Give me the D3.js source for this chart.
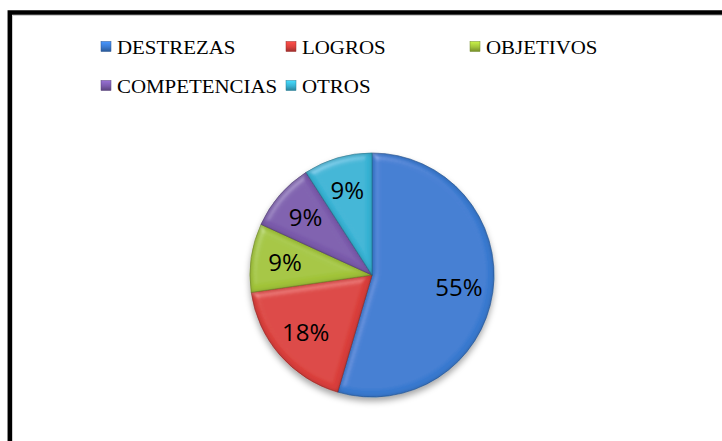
<!DOCTYPE html>
<html>
<head>
<meta charset="utf-8">
<script src="https://cdn.jsdelivr.net/npm/d3@7"></script>
<style>
  body { margin: 0; background: #fff; }
  svg { display: block; }
</style>
</head>
<body>
<svg id="chart"></svg>
<script>
// data
const categories = ['DESTREZAS', 'LOGROS', 'OBJETIVOS', 'COMPETENCIAS', 'OTROS'];
const counts = [6, 2, 1, 1, 1];
const colors = ['#3a7ad0', '#da403c', '#a2c43a', '#7b5bac', '#38b3d4'];

const width = 722, height = 441;
const cx = 372, cy = 275, radius = 122;

const svg = d3.select('#chart')
    .attr('width', width)
    .attr('height', height);

const defs = svg.append('defs');

// bevel look for each slice
const bevel = defs.append('filter')
    .attr('id', 'bevel')
    .attr('x', '-10%').attr('y', '-10%')
    .attr('width', '120%').attr('height', '120%');
bevel.append('feGaussianBlur')
    .attr('in', 'SourceAlpha').attr('stdDeviation', 3.5).attr('result', 'blur');
bevel.append('feSpecularLighting')
    .attr('in', 'blur').attr('surfaceScale', 4)
    .attr('specularConstant', 0.35).attr('specularExponent', 20)
    .attr('lighting-color', '#ffffff').attr('result', 'spec')
    .append('feDistantLight').attr('azimuth', 235).attr('elevation', 40);
bevel.append('feComposite')
    .attr('in', 'spec').attr('in2', 'SourceAlpha').attr('operator', 'in').attr('result', 'specIn');
bevel.append('feGaussianBlur')
    .attr('in', 'SourceAlpha').attr('stdDeviation', 2.5).attr('result', 'blur2');
bevel.append('feComposite')
    .attr('in', 'SourceAlpha').attr('in2', 'blur2').attr('operator', 'out').attr('result', 'edge');
bevel.append('feFlood')
    .attr('flood-color', '#000').attr('flood-opacity', 0.5).attr('result', 'dark');
bevel.append('feComposite')
    .attr('in', 'dark').attr('in2', 'edge').attr('operator', 'in').attr('result', 'darkEdge');
bevel.append('feComposite')
    .attr('in', 'SourceGraphic').attr('in2', 'specIn').attr('operator', 'arithmetic')
    .attr('k1', 0).attr('k2', 1).attr('k3', 0.45).attr('k4', 0).attr('result', 'lit');
const merge = bevel.append('feMerge');
merge.append('feMergeNode').attr('in', 'lit');
merge.append('feMergeNode').attr('in', 'darkEdge');

// soft shadow under the pie
const shadow = defs.append('filter')
    .attr('id', 'shadow')
    .attr('x', '-20%').attr('y', '-20%')
    .attr('width', '140%').attr('height', '140%');
shadow.append('feDropShadow')
    .attr('dx', 0).attr('dy', 4).attr('stdDeviation', 3)
    .attr('flood-color', '#000').attr('flood-opacity', 0.35);

// legend marker gradients
colors.forEach(function (c, i) {
    const g = defs.append('linearGradient')
        .attr('id', 'mk' + i)
        .attr('x1', 0).attr('y1', 0).attr('x2', 0).attr('y2', 1);
    g.append('stop').attr('offset', '0%').attr('stop-color', d3.color(c).brighter(0.6));
    g.append('stop').attr('offset', '55%').attr('stop-color', c);
    g.append('stop').attr('offset', '100%').attr('stop-color', d3.color(c).darker(0.9));
});

// frame (only top and left edges are in view)
svg.append('rect')
    .attr('x', 9.8).attr('y', 12.5)
    .attr('width', width + 20).attr('height', height + 20)
    .attr('fill', 'none')
    .attr('stroke', '#000')
    .attr('stroke-width', 4.5);
svg.append('path')
    .attr('d', `M12.5,15.5 H${width} M12.5,15.5 V${height}`)
    .attr('stroke', '#cfcfcf')
    .attr('stroke-width', 1)
    .attr('fill', 'none');

// legend: 3 columns
const legendCols = [101, 286, 470];
const legendRows = [41.5, 80.5];

const legend = svg.append('g');
const items = legend.selectAll('g.item')
    .data(categories)
    .join('g')
    .attr('class', 'item')
    .attr('transform', (d, i) => `translate(${legendCols[i % 3]}, ${legendRows[Math.floor(i / 3)]})`);

items.append('rect')
    .attr('width', 10).attr('height', 10)
    .attr('fill', (d, i) => `url(#mk${i})`)
    .attr('stroke', (d, i) => d3.color(colors[i]).darker(1))
    .attr('stroke-width', 0.5);

items.append('text')
    .attr('transform', 'translate(16, 12.8) scale(1.1, 1)')
    .attr('font-family', 'Liberation Serif')
    .attr('font-size', 19)
    .attr('fill', '#000')
    .text(d => d);

// pie
const pie = d3.pie().sort(null).value(d => d);
const arcs = pie(counts);
const arc = d3.arc().innerRadius(0).outerRadius(radius);
const labelArc = d3.arc().innerRadius(radius * 0.72).outerRadius(radius * 0.72);
const total = d3.sum(counts);

const pieG = svg.append('g')
    .attr('transform', `translate(${cx}, ${cy})`);

const slices = pieG.append('g').attr('filter', 'url(#shadow)');
slices.selectAll('path')
    .data(arcs)
    .join('path')
    .attr('d', arc)
    .attr('fill', (d, i) => colors[i])
    .attr('stroke', (d, i) => d3.color(colors[i]).darker(0.8))
    .attr('stroke-width', 0.6)
    .attr('filter', 'url(#bevel)');

pieG.selectAll('text.lbl')
    .data(arcs)
    .join('text')
    .attr('class', 'lbl')
    .attr('transform', d => `translate(${labelArc.centroid(d)})`)
    .attr('text-anchor', 'middle')
    .attr('dy', '0.36em')
    .style('font-family', '"Open Sans", Carlito, Calibri, sans-serif')
    .style('font-size', '24px')
    .attr('fill', '#000')
    .text(d => Math.round(d.value / total * 100) + '%');
</script>
</body>
</html>
